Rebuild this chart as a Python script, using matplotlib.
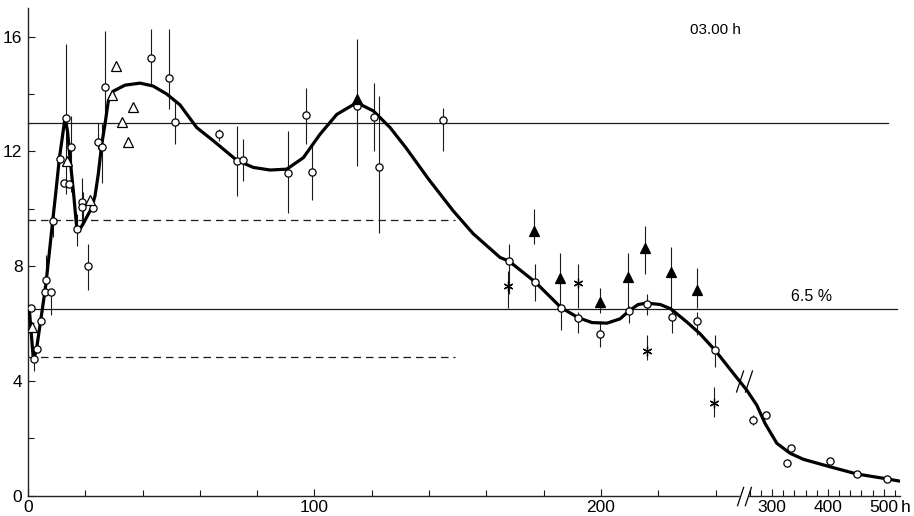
import numpy as np
import matplotlib
matplotlib.use("Agg")
import matplotlib.pyplot as plt
from matplotlib.path import Path

plt.rcParams['font.family'] = ['Liberation Sans Narrow', 'DejaVu Sans Condensed', 'Liberation Sans', 'DejaVu Sans']

# ---------------- data ----------------
# smooth fitted curve (x in h, y in %)
curve_x = [0.45, 1.05, 1.85, 2.8, 4.43, 6.18, 7.33, 8.62, 9.78, 10.93, 12.05, 12.92,
           13.79, 14.66, 15.82, 17.0, 18.16, 19.3, 20.78, 22.24, 23.4, 24.55, 25.66,
           26.9, 28.04, 29.78, 33.87, 39.1, 43.65, 48.43, 53.07, 58.9, 64.7, 72.87,
           78.67, 84.5, 90.33, 96.12, 101.96, 107.8, 114.77, 120.57, 126.4, 131.98,
           139.77, 148.4, 155.4, 164.8, 167.95, 177.1, 186.1, 192.1, 196.9, 202.1,
           206.7, 209.95, 213.0, 216.0, 220.7, 224.4, 230.0, 234.6, 239.9, 246.3,
           254.8, 272.6, 287.5, 308.5, 332.5, 356.3, 404.0, 451.8, 499.4, 529.0]
curve_y = [6.52, 5.76, 4.78, 4.99, 6.10, 7.32, 8.36, 9.58, 10.63, 11.74, 12.54, 13.17,
           12.71, 11.77, 10.63, 9.34, 9.30, 9.48, 9.76, 10.03, 10.45, 11.22, 12.19,
           12.96, 13.76, 14.10, 14.31, 14.38, 14.28, 14.00, 13.62, 12.83, 12.37, 11.69,
           11.44, 11.35, 11.38, 11.78, 12.60, 13.29, 13.70, 13.41, 12.83, 12.12,
           11.04, 9.93, 9.13, 8.30, 8.17, 7.44, 6.55, 6.20, 6.03, 6.01,
           6.16, 6.45, 6.66, 6.71, 6.66, 6.51, 6.05, 5.64, 5.06, 4.25,
           3.67, 3.15, 2.51, 1.82, 1.47, 1.26, 1.00, 0.75, 0.60, 0.50]

# open circles
circ_x = [0.9, 2.1, 3.0, 4.4, 6.2, 5.9, 7.9, 8.6, 11.2, 13.2, 15.0, 12.6, 14.3, 17.2,
          18.7, 19.0, 22.8, 21.1, 24.6, 25.9, 27.0, 42.8, 49.3, 51.3, 66.8, 72.9,
          75.2, 90.9, 97.0, 99.1, 115.0, 120.9, 122.7, 144.7, 167.9, 177.1, 186.1,
          192.1, 199.7, 209.9, 216.0, 224.7, 233.7, 239.9, 266.6, 289, 333, 326,
          404, 452, 505]
circ_y = [6.53, 4.77, 5.10, 6.10, 7.50, 7.09, 7.08, 9.58, 11.73, 13.18, 12.17, 10.91,
          10.88, 9.29, 10.22, 10.05, 10.02, 8.02, 12.34, 12.16, 14.24, 15.24, 14.55,
          13.03, 12.60, 11.67, 11.69, 11.26, 13.26, 11.29, 13.57, 13.21, 11.44, 13.10,
          8.17, 7.44, 6.55, 6.20, 5.64, 6.45, 6.69, 6.24, 6.08, 5.06, 2.63, 2.82,
          1.66, 1.15, 1.21, 0.75, 0.56]

# open triangles
otri_x = [1.3, 13.5, 21.6, 29.2, 30.7, 36.8, 32.9, 34.8]
otri_y = [5.87, 11.67, 10.30, 13.97, 14.97, 13.55, 13.04, 12.33]

# filled triangles
ftri_x = [114.8, 176.8, 185.8, 199.7, 209.6, 215.4, 224.4, 233.7]
ftri_y = [13.84, 9.23, 7.58, 6.74, 7.61, 8.63, 7.78, 7.15]

# asterisks
star_x = [167.5, 191.9, 216.0, 239.5]
star_y = [7.32, 7.40, 5.04, 3.21]

# error bars (x, low, high)
err_x = [2.1, 6.2, 7.9, 8.6, 13.2, 15.0, 17.2, 18.7, 19.3, 21.1, 24.6, 25.9, 27.0,
         42.8, 49.3, 51.3, 66.8, 72.9, 75.2, 90.9, 97.0, 99.1, 115.0, 120.9, 122.7,
         144.7, 167.9, 177.1, 186.1, 192.1, 199.7, 209.9, 216.0, 224.7, 233.7, 239.9,
         266.6,
         176.8, 185.8, 199.7, 209.6, 215.4, 224.4, 233.7,
         167.5, 191.9, 216.0, 239.5]
err_lo = [4.35, 7.39, 6.28, 9.00, 10.5, 10.6, 8.71, 9.48, 9.55, 7.15, 12.10, 10.90, 13.0,
          14.28, 13.48, 12.26, 12.37, 10.45, 10.97, 9.86, 12.26, 10.31, 11.50, 12.02, 9.17,
          12.00, 7.04, 6.80, 5.76, 5.65, 5.17, 6.00, 6.28, 5.65, 5.58, 4.47,
          2.45,
          8.78, 6.55, 6.35, 6.55, 7.74, 6.45, 6.55,
          6.55, 6.55, 4.71, 2.73]
err_hi = [4.90, 8.37, 7.15, 10.10, 15.74, 13.25, 9.83, 11.08, 10.60, 8.78, 13.00, 13.00, 16.20,
          16.26, 16.26, 13.76, 12.78, 12.89, 12.43, 12.71, 14.21, 12.19, 15.91, 14.38, 13.93,
          13.50, 8.78, 8.09, 6.55, 6.40, 6.10, 6.60, 7.04, 6.45, 6.40, 5.58,
          2.80,
          10.00, 8.47, 7.22, 8.47, 9.41, 8.65, 7.95,
          7.84, 8.09, 5.58, 3.78]

# reference lines: level, x end, dashed?
ref_levels = [13.0, 6.5, 9.6, 4.83]
ref_ends = [508, 524, 149, 149]
ref_dashed = [False, False, True, True]

ytick_major = [0, 4, 8, 12, 16]
ytick_minor = [2, 6, 10, 14]
xtick_major = [0, 100, 200, 300, 400, 500]
xtick_labels = ['0', '100', '200', '300', '400', '500']
xtick_minor = [20, 40, 60, 80, 120, 140, 160, 180, 220, 240, 260, 280, 320, 340,
               360, 380, 420, 440, 460, 480, 520]

BREAK = 250.0
K = 0.195

def fwd(x):
    x = np.asarray(x, dtype=float)
    return np.where(x <= BREAK, x, BREAK + (x - BREAK) * K)

def inv(x):
    x = np.asarray(x, dtype=float)
    return np.where(x <= BREAK, x, BREAK + (x - BREAK) / K)

# ---------------- figure ----------------
W, H = 914, 516
fig = plt.figure(figsize=(W / 100, H / 100), dpi=100)
ax = fig.add_axes([28 / W, 20.5 / H, (900 - 28) / W, (495.5 - 8) / H])
ax.set_xscale('function', functions=(fwd, inv))
ax.set_xlim(0, 529)
ax.set_ylim(0, 17)

for s in ['top', 'right']:
    ax.spines[s].set_visible(False)
for s in ['left', 'bottom']:
    ax.spines[s].set_linewidth(1.0)
    ax.spines[s].set_color('#222222')

ink = '#1a1a1a'
# reference lines
for lev, xe, dsh in zip(ref_levels, ref_ends, ref_dashed):
    if dsh:
        ax.plot([0, xe], [lev, lev], color=ink, lw=0.9, dashes=(6, 4), clip_on=False)
    else:
        ax.plot([0, xe], [lev, lev], color=ink, lw=0.9, clip_on=False)

# error bars
ax.vlines(err_x, err_lo, err_hi, color=ink, lw=0.8, zorder=2)

# curve
ax.plot(curve_x, curve_y, color='black', lw=2.3, solid_capstyle='round',
        solid_joinstyle='round', zorder=3)

# markers
ax.plot(circ_x, circ_y, 'o', ms=5.2, mfc='white', mec='black', mew=0.9, zorder=4)
ax.plot(otri_x, otri_y, '^', ms=7.5, mfc='white', mec='black', mew=0.9, zorder=4)
ax.plot(ftri_x, ftri_y, '^', ms=7.5, mfc='black', mec='black', mew=0.9, zorder=4)
ax.plot(star_x, star_y, marker=(6, 2, 0), ls='none', ms=7, mec='black', mew=0.9, zorder=4)

# break marks ("//") on the axis and on the curve
slash = Path([(-2.2, -3), (-0.2, 3), (0.2, -3), (2.2, 3)],
             [Path.MOVETO, Path.LINETO, Path.MOVETO, Path.LINETO])
ax.plot([BREAK], [0], marker='s', ms=6, mfc='white', mec='white', clip_on=False, zorder=5)
ax.plot([BREAK], [0], marker=slash, ms=14, mec='black', mew=0.9, ls='none',
        clip_on=False, zorder=6)
ax.plot([BREAK], [4.0], marker=slash, ms=16, mec='black', mew=0.9, ls='none',
        clip_on=False, zorder=6)

# ticks
ax.set_yticks(ytick_major)
ax.set_yticks(ytick_minor, minor=True)
ax.set_xticks(xtick_major)
ax.set_xticklabels(xtick_labels)
ax.set_xticks(xtick_minor, minor=True)
ax.tick_params(which='both', direction='in', color=ink, width=0.8)
ax.tick_params(which='major', length=5, labelsize=12.5, pad=3)
ax.tick_params(which='minor', length=4)
ax.tick_params(axis='y', pad=4)

# unit "h" after the last x tick label
fig.text(906 / W, 1 - 508 / H, 'h', ha='center', va='center', fontsize=12.5)

# annotations
ax.text(371, 6.68, '6.5 %', ha='center', va='bottom', fontsize=11.5)
ax.text(239.9, 16.25, '03.00 h', ha='center', va='center', fontsize=11)

fig.savefig('out.png', dpi=100)
